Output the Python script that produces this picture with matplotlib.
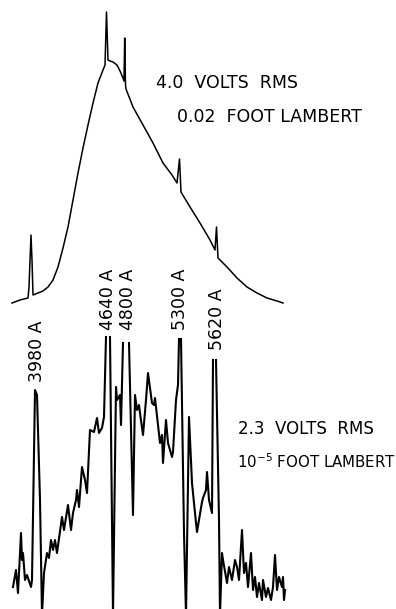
import numpy as np
import matplotlib
matplotlib.use('Agg')
import matplotlib.pyplot as plt

# upper trace: 4.0 V rms, 0.02 foot lambert (chart position, pen deflection from top)
upper_x = [12, 20, 28, 29, 31, 32, 33, 38, 43, 48, 53, 58, 63, 68, 73, 78, 83, 88, 93, 98,
           103, 105, 106.5, 108, 110, 113, 117, 120, 123, 124, 124.7, 125.5, 126, 133, 143,
           153, 163, 172, 177, 179.5, 181, 190, 200, 210, 215, 216.5, 218, 227, 237, 247,
           257, 267, 277, 283]
upper_y = [303, 300, 298, 287, 235, 260, 295, 293, 291, 287, 280, 267, 248, 227, 200, 173,
           148, 125, 103, 83, 70, 65, 12, 60, 61, 62, 65, 71, 78, 81, 38, 85, 89, 107, 125,
           143, 163, 175, 183, 159, 192, 207, 223, 240, 250, 227, 258, 267, 278, 287, 293,
           298, 301, 303]

# lower trace: 2.3 V rms, 1e-5 foot lambert (nan = pen off scale at the top)
lower_x = [13, 16, 18, 21, 22, 23, 25, 27, 31, 32, 35, 37, 40, 42, 44, 47, 49, 51, 53, 55,
           57, 62, 64, 68, 71, 73, 76, 77, 79, 82, 85, 87, 90, 94, 97, 99, 102, 104, 106,
           np.nan, 110, 113, 116, 117, 120, 121, 123, np.nan, 129, 133, 135, 137, 139, 140,
           143, 146, 148, 152, 154, 155, 160, 162, 163, 166, 168, 172, 173, 176, 178, 179,
           np.nan, 181, 184, 186, 189, 192, 195, 197, 199, 202, 203, 206, 207, 209, 212, 213,
           np.nan, 216, 219, 220, 222, 223, 227, 229, 232, 235, 237, 239, 242, 244, 246, 248,
           251, 253, 255, 257, 259, 262, 263, 266, 268, 271, 273, 275, 277, 279, 282, 283,
           284, 285]
lower_y = [587, 570, 593, 533, 560, 553, 580, 575, 587, 580, 390, 395, 500, 615, 573, 553,
           558, 540, 550, 540, 553, 517, 530, 505, 530, 513, 500, 490, 507, 467, 480, 493,
           430, 432, 418, 433, 428, 417, 337, np.nan, 337, 615, 387, 400, 395, 425, 343,
           np.nan, 343, 515, 395, 410, 405, 413, 435, 400, 373, 403, 405, 398, 443, 435, 463,
           420, 443, 457, 452, 400, 385, 339, np.nan, 339, 533, 615, 417, 483, 513, 532, 520,
           502, 498, 490, 472, 500, 513, 360, np.nan, 360, 520, 615, 553, 560, 583, 567, 580,
           560, 567, 580, 530, 573, 563, 587, 553, 590, 577, 597, 583, 600, 580, 597, 588,
           600, 587, 555, 590, 577, 587, 577, 600, 590]

line_names = ['3980 A', '4640 A', '4800 A', '5300 A', '5620 A']
label_x = [37, 108, 128, 180, 217]
label_bottom = [382, 330, 330, 330, 350]

fig = plt.figure(figsize=(3.96, 6.09), dpi=100)
ax = fig.add_axes([0, 0, 1, 1])
ax.set_xlim(0, 396)
ax.set_ylim(609, 0)
ax.axis('off')

ax.plot(upper_x, upper_y, color='black', lw=1.1, solid_joinstyle='round')
ax.plot(lower_x, lower_y, color='black', lw=1.5, solid_joinstyle='round')

for name, lx, lb in zip(line_names, label_x, label_bottom):
    ax.text(lx, lb, name, rotation=90, ha='center', va='bottom', fontsize=12.5)

ax.text(156, 83, '4.0  VOLTS  RMS', ha='left', va='center', fontsize=12.5)
ax.text(177, 117, '0.02  FOOT LAMBERT', ha='left', va='center', fontsize=12.5)
ax.text(238, 429, '2.3  VOLTS  RMS', ha='left', va='center', fontsize=12)
ax.text(237, 462, r'10$^{-5}$ FOOT LAMBERT', ha='left', va='center', fontsize=10.8)

fig.savefig('out.png', dpi=100)
